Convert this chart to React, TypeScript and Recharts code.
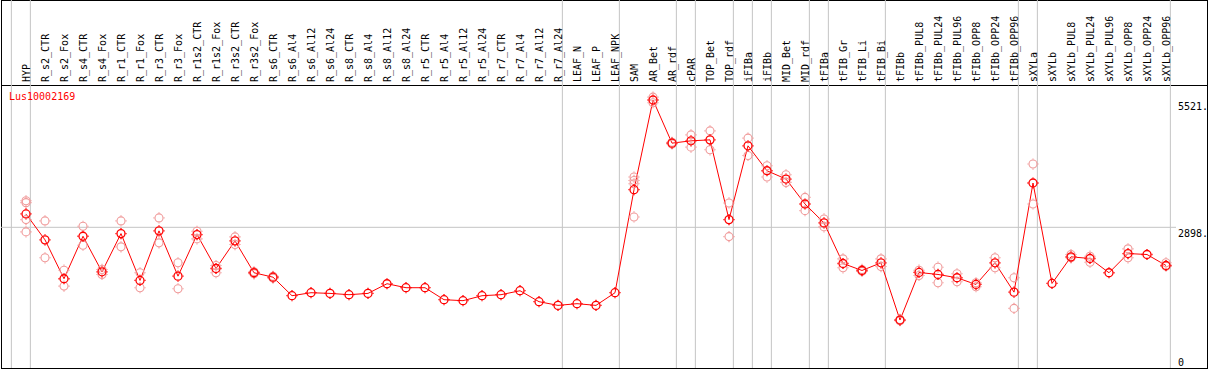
import React from 'react';
import { ComposedChart, Line, XAxis, YAxis, ReferenceLine } from 'recharts';

const GENE = 'Lus10002169';

const CATEGORIES = [
  'HYP', 'R_s2_CTR', 'R_s2_Fox', 'R_s4_CTR', 'R_s4_Fox', 'R_r1_CTR', 'R_r1_Fox', 'R_r3_CTR',
  'R_r3_Fox', 'R_r1s2_CTR', 'R_r1s2_Fox', 'R_r3s2_CTR', 'R_r3s2_Fox', 'R_s6_CTR', 'R_s6_Al4',
  'R_s6_Al12', 'R_s6_Al24', 'R_s8_CTR', 'R_s8_Al4', 'R_s8_Al12', 'R_s8_Al24', 'R_r5_CTR',
  'R_r5_Al4', 'R_r5_Al12', 'R_r5_Al24', 'R_r7_CTR', 'R_r7_Al4', 'R_r7_Al12', 'R_r7_Al24',
  'LEAF_N', 'LEAF_P', 'LEAF_NPK', 'SAM', 'AR_Bet', 'AR_rdf', 'cPAR', 'TOP_Bet', 'TOP_rdf',
  'iFIBa', 'iFIBb', 'MID_Bet', 'MID_rdf', 'tFIBa', 'tFIB_Gr', 'tFIB_Li', 'tFIB_Bi', 'tFIBb',
  'tFIBb_PUL8', 'tFIBb_PUL24', 'tFIBb_PUL96', 'tFIBb_OPP8', 'tFIBb_OPP24', 'tFIBb_OPP96',
  'sXYLa', 'sXYLb', 'sXYLb_PUL8', 'sXYLb_PUL24', 'sXYLb_PUL96', 'sXYLb_OPP8', 'sXYLb_OPP24',
  'sXYLb_OPP96',
];

// mean expression per sample
const MEAN = [
  3174, 2640, 1839, 2714, 1982, 2769, 1804, 2825, 1892, 2749, 2050, 2619, 1962, 1871, 1489,
  1551, 1537, 1510, 1537, 1736, 1654, 1654, 1407, 1387, 1489, 1510, 1592, 1366, 1290,
  1325, 1290, 1551, 3673, 5521, 4632, 4680, 4700, 3057,
  4577, 4063, 3893, 3379, 2989, 2153, 2009, 2167, 988,
  1968, 1927, 1859, 1721, 2167, 1563,
  3811, 1742, 2290, 2256, 1962, 2358, 2338,
  2112,
];

// replicates (null = not shown / hidden under the mean)
const REP_1 = [
  3445, 3030, 2015, 2919, 2030, 3030, 1962, 3092, 2167, 2817, 2112, 2701, 1982, 1890, null,
  null, null, null, null, null, null, null, null, null, null, null, null, null, null,
  null, null, null, 3934, 5580, 4650, 4803, 4885, 3400,
  4735, 4166, 3981, 3515, 3071, 2249, 2030, 2249, 1000,
  2015, 2077, 1941, 1756, 2270, 1859,
  4201, null, 2338, 2303, null, 2455, null,
  2167,
];
const REP_2 = [
  3406, 2270, 1687, 2529, 1927, 2496, 1654, 2578, 1633, 2660, 1962, 2543, 1941, 1852, null,
  null, null, null, null, null, null, null, null, null, null, null, null, null, null,
  null, null, null, 3864, 5465, 4615, 4550, 4495, 2707,
  4378, 3934, 3823, 3242, 2907, 2064, 1990, 2090, 975,
  1906, 1756, 1777, 1674, 2064, 1228,
  3379, null, 2270, 2180, null, 2270, null,
  2097,
];
const REP_3 = CATEGORIES.map((c) => (c === 'HYP' ? 3057 : c === 'SAM' ? 3796 : null));
const REP_4 = CATEGORIES.map((c) => (c === 'HYP' ? 2804 : c === 'SAM' ? 3112 : null));

const Y_TICKS = [0, 2898, 5521];
const GRID_Y = 2898;

// last sample of each group ('' = left edge)
const GROUP_ENDS = [
  '', 'HYP', 'R_r7_Al24', 'LEAF_NPK', 'AR_rdf', 'cPAR', 'TOP_rdf', 'iFIBa', 'iFIBb',
  'MID_rdf', 'tFIBa', 'tFIB_Bi', 'tFIBb_OPP96', 'sXYLa', 'sXYLb_OPP96',
];

const WIDTH = 1209;
const HEIGHT = 370;
const PLOT_LEFT = 1;
const PLOT_RIGHT = 1176;
const PLOT_TOP = 85;
const PLOT_BOTTOM = 368;
const FIRST_X = 26;
const STEP = 19;
const Y_MAX = 5830;
const X_DOMAIN = [(PLOT_LEFT - FIRST_X) / STEP, (PLOT_RIGHT - FIRST_X) / STEP];
const SKY = (Y_MAX * PLOT_BOTTOM) / (PLOT_BOTTOM - PLOT_TOP);

const FONT = '"DejaVu Sans Mono", "Liberation Mono", monospace';
const RED = '#ff0000';
const PINK = '#f09a9a';
const GRID = '#c4c4c4';

const data = CATEGORIES.map((name, i) => ({
  idx: i,
  name,
  mean: MEAN[i],
  r1: REP_1[i],
  r2: REP_2[i],
  r3: REP_3[i],
  r4: REP_4[i],
}));

const boundaries = GROUP_ENDS.map((c) => (c === '' ? -1 : CATEGORIES.indexOf(c)) + 0.23);

const ring = (color: string, sw: number) => (p: any) => {
  const key = `${p.dataKey}-${p.index}`;
  if (p.cy == null || p.cx == null || isNaN(p.cy) || p.payload?.[p.dataKey] == null) {
    return <g key={key} />;
  }
  const { cx, cy } = p;
  return (
    <g key={key} stroke={color} strokeWidth={sw} fill="none">
      <circle cx={cx} cy={cy} r={4} />
      <line x1={cx} y1={cy - 4.5} x2={cx} y2={cy - 5.6} />
      <line x1={cx} y1={cy + 4.5} x2={cx} y2={cy + 5.6} />
      <line x1={cx - 4.5} y1={cy} x2={cx - 5.6} y2={cy} />
      <line x1={cx + 4.5} y1={cy} x2={cx + 5.6} y2={cy} />
    </g>
  );
};

const meanDot = ring(RED, 1.3);
const repDot = ring(PINK, 1.1);

const HeaderTick = ({ x, y, payload }: any) => {
  const bx = x + 3.5;
  return (
    <text
      x={bx}
      y={y}
      transform={`rotate(-90 ${bx} ${y})`}
      fontSize={10}
      fontFamily={FONT}
      fill="#000"
      textAnchor="start"
    >
      {CATEGORIES[payload.value]}
    </text>
  );
};

const ValueTick = ({ x, y, payload }: any) => (
  <text
    x={x}
    y={y + (payload.value === 0 ? -2 : 10)}
    fontSize={10}
    fontFamily={FONT}
    fill="#000"
    textAnchor="start"
  >
    {payload.value === 0 ? '0' : `${payload.value}.`}
  </text>
);

export default function App() {
  return (
    <div style={{ position: 'absolute', left: 0, top: 0, width: WIDTH, height: HEIGHT, background: '#fff' }}>
      <div
        style={{
          position: 'absolute',
          left: 1,
          top: 0,
          width: 1207,
          height: 369,
          border: '1px solid #000',
          boxSizing: 'border-box',
        }}
      />
      <div style={{ position: 'absolute', left: 1, top: PLOT_TOP, width: 1207, height: 1, background: '#000' }} />
      <div style={{ position: 'absolute', left: 0, top: 0 }}>
        <ComposedChart
          width={WIDTH}
          height={HEIGHT}
          data={data}
          margin={{ top: 0, right: 0, bottom: HEIGHT - PLOT_BOTTOM, left: PLOT_LEFT }}
        >
          <XAxis
            dataKey="idx"
            type="number"
            orientation="top"
            height={PLOT_TOP}
            domain={X_DOMAIN}
            allowDataOverflow
            ticks={CATEGORIES.map((_, i) => i)}
            interval={0}
            axisLine={false}
            tickLine={false}
            tickSize={0}
            tickMargin={3}
            tick={<HeaderTick />}
          />
          <YAxis
            orientation="right"
            width={WIDTH - PLOT_RIGHT}
            domain={[0, Y_MAX]}
            allowDataOverflow
            ticks={Y_TICKS}
            interval={0}
            axisLine={false}
            tickLine={false}
            tickSize={0}
            tickMargin={2}
            tick={<ValueTick />}
          />
          <ReferenceLine y={GRID_Y} stroke={GRID} strokeWidth={1} />
          {boundaries.map((b) => (
            <ReferenceLine
              key={b}
              segment={[{ x: b, y: 0 }, { x: b, y: SKY }]}
              ifOverflow="visible"
              stroke={GRID}
              strokeWidth={1}
            />
          ))}
          <Line dataKey="r1" stroke="none" dot={repDot} activeDot={false} isAnimationActive={false} />
          <Line dataKey="r2" stroke="none" dot={repDot} activeDot={false} isAnimationActive={false} />
          <Line dataKey="r3" stroke="none" dot={repDot} activeDot={false} isAnimationActive={false} />
          <Line dataKey="r4" stroke="none" dot={repDot} activeDot={false} isAnimationActive={false} />
          <Line
            dataKey="mean"
            type="linear"
            stroke={RED}
            strokeWidth={1}
            dot={meanDot}
            activeDot={false}
            isAnimationActive={false}
          />
        </ComposedChart>
      </div>
      <svg
        width={WIDTH}
        height={HEIGHT}
        style={{ position: 'absolute', left: 0, top: 0, pointerEvents: 'none' }}
      >
        <text x={9} y={100} fontSize={10} fontFamily={FONT} fill={RED}>
          {GENE}
        </text>
      </svg>
    </div>
  );
}
